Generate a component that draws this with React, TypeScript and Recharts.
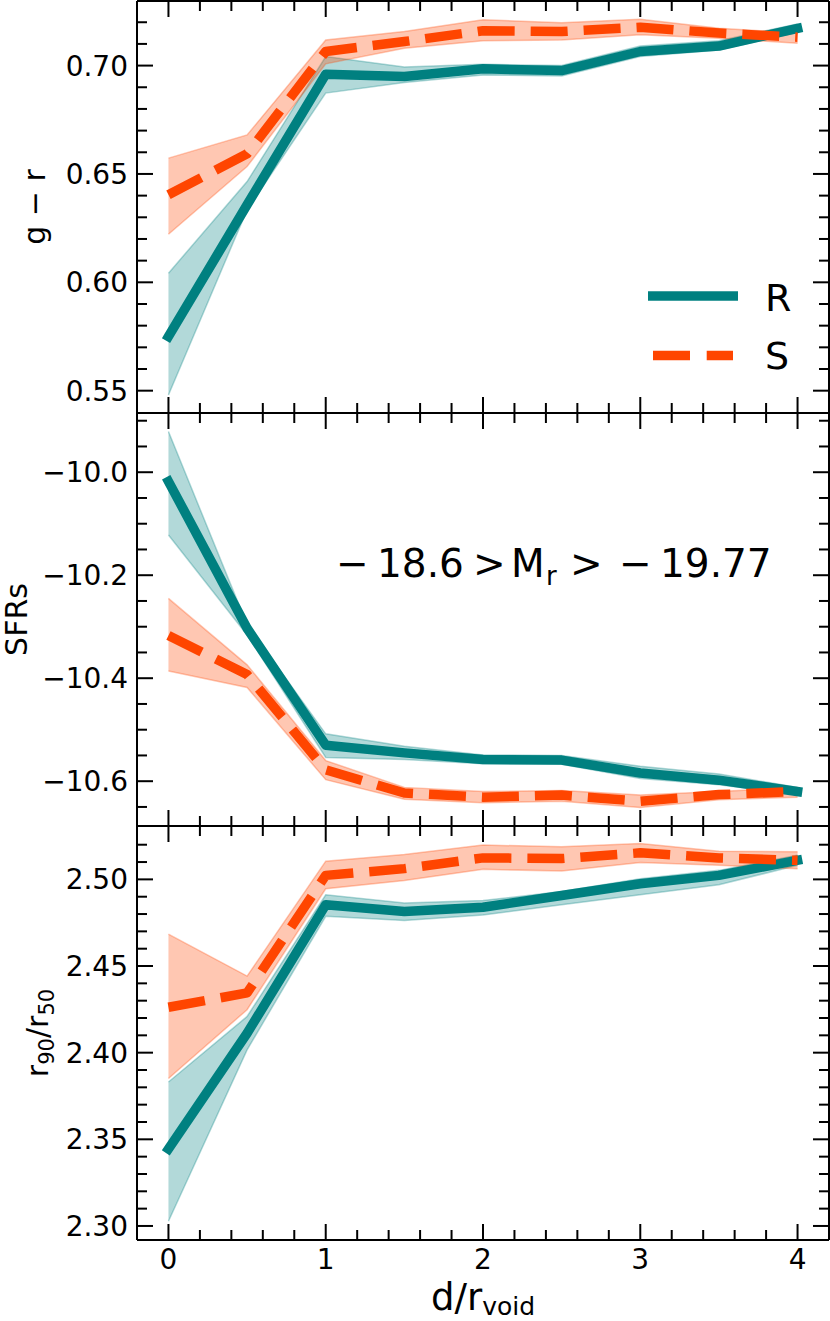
import React from 'react';
import { ComposedChart, Line, Area, XAxis, YAxis, Legend } from 'recharts';

const FONT = "'DejaVu Sans', Verdana, sans-serif";
const TEAL = '#008080';
const ORANGE = '#FF4500';

// x positions (d / r_void)
const dist = [0, 0.5, 1, 1.5, 2, 2.5, 3, 3.5, 4];

// panel 1: g - r
const grR = [0.575, 0.6358, 0.696, 0.695, 0.6985, 0.6977, 0.7065, 0.709, 0.7172];
const grRLo = [0.548, 0.6334, 0.6873, 0.6922, 0.6957, 0.6952, 0.7042, 0.7072, 0.7154];
const grRHi = [0.6042, 0.6465, 0.7042, 0.6993, 0.7006, 0.7, 0.709, 0.7115, 0.7192];
const grS = [0.6404, 0.6593, 0.7065, 0.7111, 0.7161, 0.7157, 0.7177, 0.715, 0.7131];
const grSLo = [0.6222, 0.6534, 0.7008, 0.708, 0.7115, 0.7118, 0.7142, 0.7126, 0.7103];
const grSHi = [0.6573, 0.668, 0.7118, 0.7157, 0.7211, 0.7198, 0.7214, 0.7172, 0.715];

// panel 2: SFRs
const sfrR = [-10.018, -10.303, -10.53, -10.545, -10.558, -10.559, -10.584, -10.598, -10.62];
const sfrRLo = [-10.122, -10.316, -10.554, -10.558, -10.566, -10.567, -10.595, -10.607, -10.626];
const sfrRHi = [-9.921, -10.296, -10.508, -10.532, -10.549, -10.55, -10.571, -10.586, -10.612];
const sfrS = [-10.317, -10.393, -10.578, -10.623, -10.631, -10.627, -10.639, -10.626, -10.62];
const sfrSLo = [-10.386, -10.418, -10.597, -10.635, -10.642, -10.639, -10.651, -10.636, -10.631];
const sfrSHi = [-10.245, -10.374, -10.56, -10.612, -10.62, -10.618, -10.627, -10.62, -10.612];

// panel 3: r90 / r50
const conR = [2.3444, 2.4112, 2.4853, 2.4814, 2.4839, 2.4907, 2.4975, 2.5023, 2.511];
const conRLo = [2.3027, 2.4016, 2.4787, 2.4762, 2.4795, 2.4853, 2.4911, 2.4969, 2.5081];
const conRHi = [2.3831, 2.4209, 2.4911, 2.4864, 2.4878, 2.493, 2.5004, 2.5052, 2.514];
const conS = [2.4262, 2.4345, 2.5023, 2.5062, 2.5124, 2.512, 2.5153, 2.5124, 2.511];
const conSLo = [2.3851, 2.4248, 2.4946, 2.4994, 2.5058, 2.5048, 2.5097, 2.5081, 2.5062];
const conSHi = [2.4684, 2.4442, 2.5105, 2.5143, 2.5198, 2.5188, 2.5207, 2.5163, 2.5159];

// ticks
const xMajorTicks = [0, 1, 2, 3, 4];
const xAllTicks = [0, 0.2, 0.4, 0.6, 0.8, 1, 1.2, 1.4, 1.6, 1.8, 2, 2.2, 2.4, 2.6, 2.8, 3, 3.2, 3.4, 3.6, 3.8, 4];
const grMajorTicks = [0.55, 0.6, 0.65, 0.7];
const grAllTicks = [0.55, 0.56, 0.57, 0.58, 0.59, 0.6, 0.61, 0.62, 0.63, 0.64, 0.65, 0.66, 0.67, 0.68, 0.69, 0.7, 0.71, 0.72];
const sfrMajorTicks = [-10.6, -10.4, -10.2, -10.0];
const sfrAllTicks = [-10.65, -10.6, -10.55, -10.5, -10.45, -10.4, -10.35, -10.3, -10.25, -10.2, -10.15, -10.1, -10.05, -10.0, -9.95, -9.9];
const conMajorTicks = [2.3, 2.35, 2.4, 2.45, 2.5];
const conAllTicks = [2.3, 2.31, 2.32, 2.33, 2.34, 2.35, 2.36, 2.37, 2.38, 2.39, 2.4, 2.41, 2.42, 2.43, 2.44, 2.45, 2.46, 2.47, 2.48, 2.49, 2.5, 2.51, 2.52];

const legendItems = [
  { name: 'R', color: TEAL, dash: undefined as string | undefined },
  { name: 'S', color: ORANGE, dash: '37 16.7' },
];

const X_DOMAIN: [number, number] = [-0.2, 4.2];
const AXIS = { stroke: '#000', strokeWidth: 2 };

const buildRows = (r: number[], rLo: number[], rHi: number[], s: number[], sLo: number[], sHi: number[]) =>
  dist.map((d, i) => ({ d, R: r[i], RBand: [rLo[i], rHi[i]], S: s[i], SBand: [sLo[i], sHi[i]] }));

const rowsGr = buildRows(grR, grRLo, grRHi, grS, grSLo, grSHi);
const rowsSfr = buildRows(sfrR, sfrRLo, sfrRHi, sfrS, sfrSLo, sfrSHi);
const rowsCon = buildRows(conR, conRLo, conRHi, conS, conSLo, conSHi);

const isMajor = (v: number, majors: number[]) => majors.some((m) => Math.abs(m - v) < 1e-6);

const fmt2 = (v: number) => v.toFixed(2);
const fmtNeg = (v: number) => (v < 0 ? '\u2212' : '') + Math.abs(v).toFixed(1);

const yTick = (side: 'left' | 'right', majors: number[], fmt?: (v: number) => string) => (props: any) => {
  const { x, y, payload } = props;
  const v = payload.value as number;
  const maj = isMajor(v, majors);
  const len = maj ? 16 : 10;
  const dir = side === 'left' ? 1 : -1;
  return (
    <g>
      <line x1={x} y1={y} x2={x + dir * len} y2={y} stroke="#000" strokeWidth={2} />
      {side === 'left' && maj && fmt ? (
        <text x={x - 9} y={y} dy="0.36em" textAnchor="end" fontSize={28} fontFamily={FONT} fill="#000">
          {fmt(v)}
        </text>
      ) : null}
    </g>
  );
};

const xTick = (side: 'top' | 'bottom', showLabels: boolean) => (props: any) => {
  const { x, y, payload } = props;
  const v = payload.value as number;
  const maj = isMajor(v, xMajorTicks);
  const len = maj ? 16 : 10;
  const dir = side === 'bottom' ? -1 : 1;
  return (
    <g>
      <line x1={x} y1={y} x2={x} y2={y + dir * len} stroke="#000" strokeWidth={2} />
      {side === 'bottom' && maj && showLabels ? (
        <text x={x} y={y + 29} textAnchor="middle" fontSize={28} fontFamily={FONT} fill="#000">
          {String(v)}
        </text>
      ) : null}
    </g>
  );
};

type PanelProps = {
  rows: any[];
  yDomain: [number, number];
  yTicks: number[];
  yMajors: number[];
  fmt: (v: number) => string;
  top: number;
  height: number;
  margin: { top: number; right: number; bottom: number; left: number };
  xLabels: boolean;
  legend?: boolean;
};

function LegendBox() {
  return (
    <svg width={190} height={120} style={{ overflow: 'visible' }}>
      {legendItems.map((it, i) => (
        <g key={it.name}>
          <line
            x1={it.dash ? 13 : 8}
            x2={it.dash ? 93 : 98}
            y1={31 + i * 59.5}
            y2={31 + i * 59.5}
            stroke={it.color}
            strokeWidth={9.5}
            strokeDasharray={it.dash}
          />
          <text x={125} y={46 + i * 58} fontSize={38} fontFamily={FONT} fill="#000">
            {it.name}
          </text>
        </g>
      ))}
    </svg>
  );
}

function Panel(p: PanelProps) {
  return (
    <div style={{ position: 'absolute', left: 0, top: p.top, width: 830, height: p.height }}>
      <ComposedChart width={830} height={p.height} data={p.rows} margin={p.margin}>
        <XAxis
          xAxisId="b"
          dataKey="d"
          type="number"
          domain={X_DOMAIN}
          ticks={xAllTicks}
          interval={0}
          height={1}
          tickSize={0}
          tickMargin={0}
          tickLine={false}
          axisLine={AXIS}
          tick={xTick('bottom', p.xLabels)}
          allowDataOverflow
        />
        <XAxis
          xAxisId="t"
          orientation="top"
          dataKey="d"
          type="number"
          domain={X_DOMAIN}
          ticks={xAllTicks}
          interval={0}
          height={1}
          tickSize={0}
          tickMargin={0}
          tickLine={false}
          axisLine={AXIS}
          tick={xTick('top', false)}
          allowDataOverflow
        />
        <YAxis
          yAxisId="l"
          type="number"
          domain={p.yDomain}
          ticks={p.yTicks}
          interval={0}
          width={137}
          tickSize={0}
          tickMargin={0}
          tickLine={false}
          axisLine={AXIS}
          tick={yTick('left', p.yMajors, p.fmt)}
          allowDataOverflow
        />
        <YAxis
          yAxisId="r"
          orientation="right"
          type="number"
          domain={p.yDomain}
          ticks={p.yTicks}
          interval={0}
          width={1}
          tickSize={0}
          tickMargin={0}
          tickLine={false}
          axisLine={AXIS}
          tick={yTick('right', p.yMajors)}
          allowDataOverflow
        />
        <Area
          xAxisId="b"
          yAxisId="l"
          type="linear"
          dataKey="RBand"
          stroke={TEAL}
          strokeOpacity={0.3}
          strokeWidth={1.5}
          fill={TEAL}
          fillOpacity={0.3}
          dot={false}
          activeDot={false}
          isAnimationActive={false}
        />
        <Line
          xAxisId="b"
          yAxisId="l"
          type="linear"
          dataKey="R"
          stroke={TEAL}
          strokeWidth={9.5}
          strokeLinecap="square"
          strokeLinejoin="round"
          dot={false}
          activeDot={false}
          isAnimationActive={false}
        />
        <Area
          xAxisId="b"
          yAxisId="l"
          type="linear"
          dataKey="SBand"
          stroke={ORANGE}
          strokeOpacity={0.3}
          strokeWidth={1.5}
          fill={ORANGE}
          fillOpacity={0.3}
          dot={false}
          activeDot={false}
          isAnimationActive={false}
        />
        <Line
          xAxisId="b"
          yAxisId="l"
          type="linear"
          dataKey="S"
          stroke={ORANGE}
          strokeWidth={9.5}
          strokeDasharray="37 16"
          strokeLinecap="butt"
          strokeLinejoin="round"
          dot={false}
          activeDot={false}
          isAnimationActive={false}
        />
        {p.legend ? (
          <Legend
            layout="vertical"
            align="center"
            verticalAlign="middle"
            wrapperStyle={{ position: 'absolute', left: 640, top: 265, width: 190, height: 120 }}
            content={() => <LegendBox />}
          />
        ) : null}
      </ComposedChart>
    </div>
  );
}

export default function App() {
  return (
    <div style={{ position: 'absolute', left: 0, top: 0, width: 830, height: 1321, background: '#fff' }}>
      <Panel
        rows={rowsGr}
        yDomain={[0.5397, 0.7298]}
        yTicks={grAllTicks}
        yMajors={grMajorTicks}
        fmt={fmt2}
        top={0}
        height={414}
        margin={{ top: 0, right: 0, bottom: 0, left: 0 }}
        xLabels={false}
        legend
      />
      <Panel
        rows={rowsSfr}
        yDomain={[-10.687, -9.885]}
        yTicks={sfrAllTicks}
        yMajors={sfrMajorTicks}
        fmt={fmtNeg}
        top={412}
        height={415}
        margin={{ top: 0, right: 0, bottom: 0, left: 0 }}
        xLabels={false}
      />
      <Panel
        rows={rowsCon}
        yDomain={[2.2919, 2.5308]}
        yTicks={conAllTicks}
        yMajors={conMajorTicks}
        fmt={fmt2}
        top={825}
        height={496}
        margin={{ top: 0, right: 0, bottom: 80, left: 0 }}
        xLabels
      />
      <svg
        width={830}
        height={1321}
        style={{ position: 'absolute', left: 0, top: 0, pointerEvents: 'none' }}
        fontFamily={FONT}
      >
        <text transform="translate(45,207) rotate(-90)" textAnchor="middle" fontSize={30} fill="#000">
          g {'\u2212'} r
        </text>
        <text transform="translate(27,619.5) rotate(-90)" textAnchor="middle" fontSize={30} fill="#000">
          SFRs
        </text>
        <text transform="translate(48,1033) rotate(-90)" textAnchor="middle" fontSize={30} fill="#000">
          <tspan>r</tspan>
          <tspan dy={6} fontSize={21}>90</tspan>
          <tspan dy={-6}>/r</tspan>
          <tspan dy={6} fontSize={21}>50</tspan>
        </text>
        <text x={483} y={1310} textAnchor="middle" fontSize={37} fill="#000">
          <tspan>d/r</tspan>
          <tspan dy={5} fontSize={25}>void</tspan>
        </text>
        <text y={576.7} fontSize={39} fill="#000">
          <tspan x={336}>{'\u2212'}</tspan>
          <tspan x={377}>18.6</tspan>
          <tspan x={473}>&gt;</tspan>
          <tspan x={511}>M</tspan>
          <tspan x={546} dy={8.3} fontSize={26}>r</tspan>
          <tspan x={570} dy={-8.3}>&gt;</tspan>
          <tspan x={619}>{'\u2212'}</tspan>
          <tspan x={660}>19.77</tspan>
        </text>
      </svg>
    </div>
  );
}
